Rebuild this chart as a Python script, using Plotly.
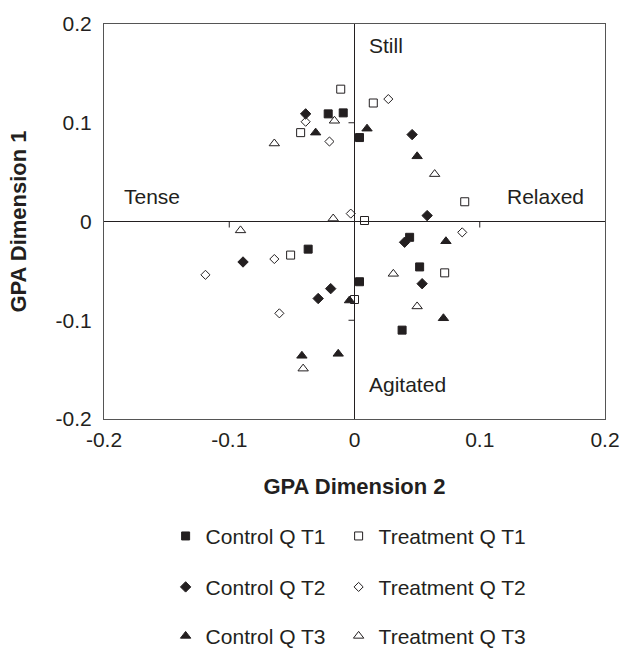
import plotly.graph_objects as go

# ---- data ----
ctrl_t1_x = [-0.021, -0.009, 0.004, 0.044, 0.052, 0.004, 0.038, -0.037]
ctrl_t1_y = [0.109, 0.110, 0.085, -0.016, -0.046, -0.061, -0.110, -0.028]
trt_t1_x = [-0.011, -0.043, 0.015, 0.088, 0.008, 0.072, -0.051, 0.000]
trt_t1_y = [0.134, 0.090, 0.120, 0.020, 0.001, -0.052, -0.034, -0.079]
ctrl_t2_x = [-0.039, 0.046, 0.058, 0.040, 0.054, -0.089, -0.019, -0.029]
ctrl_t2_y = [0.109, 0.088, 0.006, -0.021, -0.063, -0.041, -0.068, -0.078]
trt_t2_x = [-0.039, -0.020, 0.027, -0.003, 0.086, -0.064, -0.119, -0.060]
trt_t2_y = [0.101, 0.081, 0.124, 0.008, -0.011, -0.038, -0.054, -0.093]
ctrl_t3_x = [-0.031, 0.010, 0.050, 0.073, 0.071, -0.004, -0.042, -0.013]
ctrl_t3_y = [0.090, 0.094, 0.066, -0.020, -0.098, -0.080, -0.136, -0.134]
trt_t3_x = [-0.016, -0.064, -0.017, 0.064, 0.031, 0.050, -0.091, -0.041]
trt_t3_y = [0.102, 0.079, 0.003, 0.048, -0.053, -0.086, -0.009, -0.149]

tick_vals = [-0.2, -0.1, 0, 0.1, 0.2]
tick_text = ["-0.2", "-0.1", "0", "0.1", "0.2"]

FONT = "Liberation Sans, Arial, sans-serif"
INK = "#231f20"
FS = 21

fig = go.Figure()

series = [
    ("Control Q T1", ctrl_t1_x, ctrl_t1_y, "square", 8, "legend", 128),
    ("Treatment Q T1", trt_t1_x, trt_t1_y, "square-open", 8, "legend", 170),
    ("Control Q T2", ctrl_t2_x, ctrl_t2_y, "diamond", 8, "legend2", 128),
    ("Treatment Q T2", trt_t2_x, trt_t2_y, "diamond-open", 7, "legend2", 170),
    ("Control Q T3", ctrl_t3_x, ctrl_t3_y, "triangle-up", 9, "legend3", 128),
    ("Treatment Q T3", trt_t3_x, trt_t3_y, "triangle-up-open", 9, "legend3", 170),
]
for name, xs, ys, sym, size, leg, lw in series:
    fig.add_trace(go.Scatter(
        x=xs, y=ys, mode="markers", name=name, legend=leg, legendwidth=lw,
        marker=dict(symbol=sym, size=size, color=INK,
                    line=dict(color=INK, width=1)),
    ))

# small tick marks on the crossing zero axes
for v in [-0.1, 0.1]:
    fig.add_shape(type="line", xref="x", yref="y", x0=v, x1=v,
                  ysizemode="pixel", yanchor=0, y0=0, y1=-6,
                  line=dict(color=INK, width=1))
    fig.add_shape(type="line", xref="x", yref="y", y0=v, y1=v,
                  xsizemode="pixel", xanchor=0, x0=-6, x1=0,
                  line=dict(color=INK, width=1))

# quadrant labels
for txt, x, y in [("Still", 0.010, 0.178), ("Tense", -0.186, 0.025),
                  ("Relaxed", 0.120, 0.025), ("Agitated", 0.010, -0.165)]:
    fig.add_annotation(x=x, y=y, xref="x", yref="y", text=txt, showarrow=False,
                       xanchor="left", yanchor="middle",
                       font=dict(size=FS, color=INK, family=FONT))

axis_common = dict(
    tickvals=tick_vals, ticktext=tick_text, showgrid=False,
    zeroline=True, zerolinecolor=INK, zerolinewidth=1,
    showline=True, mirror=True, linecolor="#555", linewidth=1,
    ticks="outside", tickcolor="rgba(0,0,0,0)",
    tickfont=dict(size=FS, color=INK, family=FONT),
    range=[-0.2, 0.2], automargin=False,
)

leg_common = dict(orientation="h", x=0.123, xanchor="left", yanchor="middle",
                  font=dict(size=FS, color=INK, family=FONT))

fig.update_layout(
    width=623, height=648,
    margin=dict(l=104, r=18, t=24, b=229, autoexpand=False),
    plot_bgcolor="white", paper_bgcolor="white",
    font=dict(family=FONT, color=INK),
    xaxis=dict(**axis_common, ticklen=2,
               title=dict(text="<b>GPA Dimension 2</b>", standoff=28,
                          font=dict(size=22, color=INK, family=FONT))),
    yaxis=dict(**axis_common, ticklen=7,
               title=dict(text="<b>GPA Dimension 1</b>", standoff=22,
                          font=dict(size=22, color=INK, family=FONT))),
    legend=dict(**leg_common, y=-0.297),
    legend2=dict(**leg_common, y=-0.426),
    legend3=dict(**leg_common, y=-0.550),
)

fig.write_html("out.html", config={"displayModeBar": False},
               post_script="document.body.style.margin='0';document.body.style.overflow='hidden';")
